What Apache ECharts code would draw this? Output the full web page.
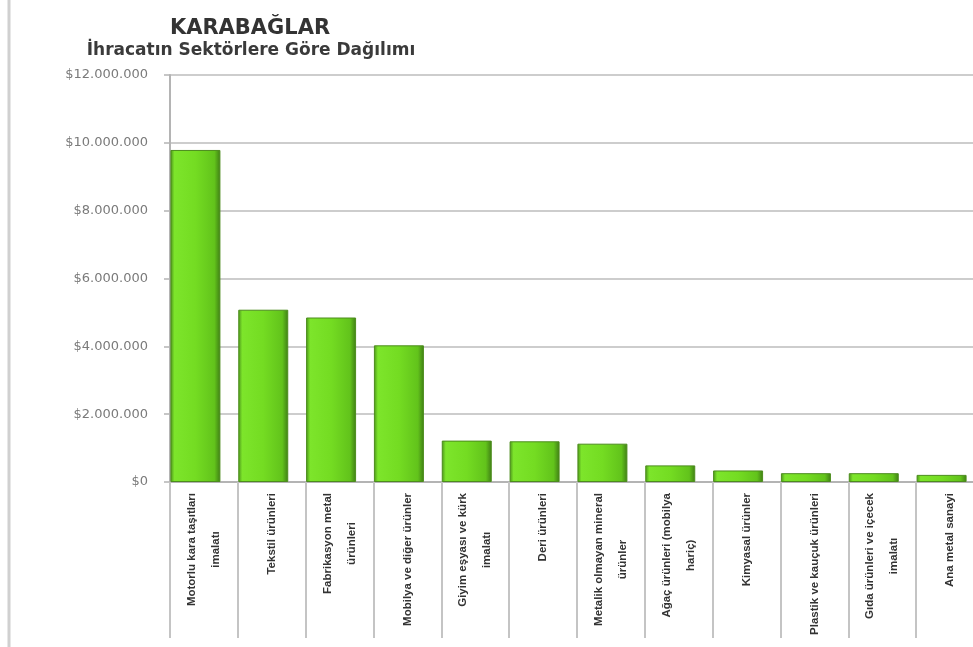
<!DOCTYPE html>
<html>
<head>
<meta charset="utf-8">
<script src="https://cdn.jsdelivr.net/npm/echarts@6/dist/echarts.min.js"></script>
<style>
html,body{margin:0;padding:0;background:#fff;overflow:hidden;width:973px;height:647px;}
#chart{width:984px;height:647px;}
</style>
</head>
<body>
<div id="chart"></div>
<script>
const titleText = 'KARABAĞLAR';
const subtitleText = 'İhracatın Sektörlere Göre Dağılımı';
const categories = [
  'Motorlu kara taşıtları\nimalatı',
  'Tekstil ürünleri',
  'Fabrikasyon metal\nürünleri',
  'Mobilya ve diğer ürünler',
  'Giyim eşyası ve kürk\nimalatı',
  'Deri ürünleri',
  'Metalik olmayan mineral\nürünler',
  'Ağaç ürünleri (mobilya\nhariç)',
  'Kimyasal ürünler',
  'Plastik ve kauçuk ürünleri',
  'Gıda ürünleri ve içecek\nimalatı',
  'Ana metal sanayi'
];
const exportValues = [9790000, 5080000, 4850000, 4030000, 1220000, 1200000, 1130000, 490000, 340000, 260000, 260000, 210000];
const yTickValues = [0, 2000000, 4000000, 6000000, 8000000, 10000000, 12000000];
const yTickLabels = ['$0', '$2.000.000', '$4.000.000', '$6.000.000', '$8.000.000', '$10.000.000', '$12.000.000'];

const chart = echarts.init(document.getElementById('chart'));
const option = {
  backgroundColor: '#ffffff',
  animation: false,
  title: [
    { text: titleText, left: 245, top: 13, textAlign: 'center',
      textStyle: { fontFamily: 'DejaVu Sans', fontWeight: 'bold', fontSize: 21, color: '#333' } },
    { text: subtitleText, left: 246, top: 37, textAlign: 'center',
      textStyle: { fontFamily: 'DejaVu Sans', fontWeight: 'bold', fontSize: 17, color: '#3a3a3a' } }
  ],
  graphic: [
    { type: 'line', shape: { x1: 9, y1: 0, x2: 9, y2: 647 }, style: { stroke: '#d0d0d0', lineWidth: 3 } }
  ],
  grid: { left: 170, top: 75, right: 0, bottom: 165, containLabel: false },
  xAxis: {
    type: 'category',
    data: categories,
    boundaryGap: true,
    axisLine: { show: true, lineStyle: { color: '#b4b4b4', width: 2 } },
    axisTick: { show: true, interval: 0, length: 156, lineStyle: { color: '#c4c4c4', width: 2 } },
    axisLabel: {
      interval: 0, rotate: 90, margin: 11,
      fontFamily: 'Liberation Sans Narrow, Liberation Sans, sans-serif',
      fontSize: 11, color: '#333',
      formatter: function (v) { return v.split('\n').map(function (s) { return '{c|' + s + '}'; }).join('\n'); },
      rich: { c: { align: 'center', fontSize: 11.5, lineHeight: 24, color: '#333', fontWeight: 'bold', fontFamily: 'Liberation Sans Narrow, Liberation Sans, sans-serif' } }
    }
  },
  yAxis: {
    type: 'value',
    min: 0, max: 12000000, interval: 2000000,
    axisLine: { show: true, lineStyle: { color: '#b4b4b4', width: 2 } },
    axisTick: { show: true, length: 6, lineStyle: { color: '#b4b4b4', width: 1.5 } },
    axisLabel: {
      margin: 22, fontFamily: 'DejaVu Sans', fontSize: 13, color: '#7a7a7a',
      formatter: function (v) { const i = yTickValues.indexOf(v); return i >= 0 ? yTickLabels[i] : ''; }
    },
    splitLine: { show: true, lineStyle: { color: '#cdcdcd', width: 2 } }
  },
  series: [
    {
      name: 'İhracat',
      type: 'bar',
      data: exportValues,
      barWidth: 50,
      barGap: '0%',
      itemStyle: {
        borderColor: '#4c8c1d', borderWidth: 1,
        color: new echarts.graphic.LinearGradient(0, 0, 1, 0, [
          { offset: 0, color: '#4a9219' },
          { offset: 0.08, color: '#7de52b' },
          { offset: 0.5, color: '#74dc22' },
          { offset: 0.88, color: '#62c31b' },
          { offset: 1, color: '#3f7d15' }
        ])
      }
    },
    {
      name: 'spacer',
      type: 'bar',
      data: categories.map(function () { return '-'; }),
      barWidth: 17,
      barGap: '0%',
      silent: true,
      itemStyle: { color: 'transparent' }
    }
  ]
};
chart.setOption(option);
</script>
</body>
</html>
